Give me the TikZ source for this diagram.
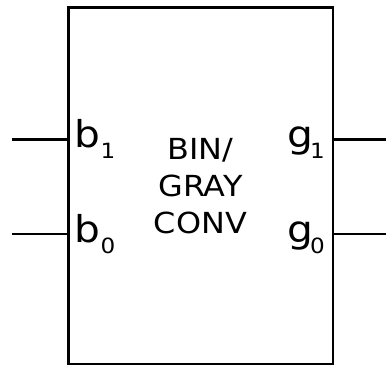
\documentclass[tikz,border=0pt]{standalone}
\usepackage{fontspec}
\setmainfont{DejaVu Sans}[FakeStretch=1.1]
\newcommand{\gsub}[1]{g\hspace{-3.5pt}\raisebox{-10.6pt}{\fontsize{21}{24}\selectfont #1}}
\begin{document}
\begin{tikzpicture}[x=1pt,y=1pt,
  wire/.style={line width=2.6pt},
  pinlabel/.style={inner sep=0pt,font=\fontsize{37}{40}\selectfont},
  sublabel/.style={inner sep=0pt,font=\fontsize{21}{24}\selectfont},
  centertext/.style={inner sep=0pt,anchor=base,font=\fontsize{29}{37}\selectfont}]
\useasboundingbox (0,0) rectangle (386,366);
\node[draw,line width=2.4pt,minimum width=264.5pt,minimum height=356.5pt,inner sep=0pt] (box) at (200.75,180.25) {};
\coordinate (l1) at (12,226.5);
\coordinate (l0) at (12,132);
\coordinate (r1) at (386,226.5);
\coordinate (r0) at (386,132);
\coordinate (bl1) at (68.5,226.5);
\coordinate (bl0) at (68.5,132);
\coordinate (br1) at (333,226.5);
\coordinate (br0) at (333,132);
\draw[wire] (l1) -- (bl1);
\draw[wire] (l0) -- (bl0);
\draw[wire] (br1) -- (r1);
\draw[wire] (br0) -- (r0);
\node[pinlabel,anchor=base west] (b1) at (74.6,218.3) {b};
\node[sublabel,anchor=base west] (b1s) at ([yshift=-10.6pt,xshift=-0.5pt]b1.base east) {1};
\node[pinlabel,anchor=base west] (b0) at (74.6,123) {b};
\node[sublabel,anchor=base west] (b0s) at ([yshift=-10.6pt,xshift=-0.5pt]b0.base east) {0};
\node[pinlabel,anchor=base east] (g1) at (325,218.3) {\gsub{1}};
\node[pinlabel,anchor=base east] (g0) at (325,123) {\gsub{0}};
\node[centertext] (t1) at (200.5,206) {BIN/};
\node[centertext] (t2) at (200.5,169) {GRAY};
\node[centertext] (t3) at (200.5,132) {CONV};
\end{tikzpicture}
\end{document}
